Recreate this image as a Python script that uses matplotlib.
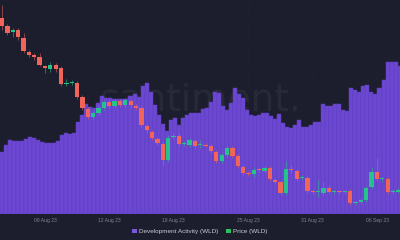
import numpy as np
import pandas as pd
import matplotlib
matplotlib.use('Agg')
import matplotlib.pyplot as plt
import matplotlib.dates as mdates
from matplotlib.patches import Patch

# Development activity (WLD), one bar every 9h
dev_start = '2023-08-01 23:40'
dev_activity = [
    62, 69, 74, 73, 73, 73, 75, 77, 76, 74, 72, 71, 71, 71, 73, 79, 81, 80, 81, 92,
    99, 110, 107, 106, 111, 118, 116, 116, 115, 115, 115, 115, 118, 120, 117, 128, 131, 122, 109, 99,
    90, 83, 94, 96, 89, 96, 99, 101, 101, 101, 105, 106, 112, 122, 121, 108, 104, 111, 126, 120,
    116, 104, 99, 98, 99, 101, 101, 98, 95, 100, 91, 87, 86, 89, 94, 87, 87, 89, 92, 92,
    110, 108, 108, 110, 110, 104, 103, 126, 124, 122, 128, 129, 122, 120, 126, 134, 152, 152, 152, 148,
]

# Price (WLD), 12h candles
candle_start = '2023-08-02 00:00'
price_open = [
    2.310, 2.270, 2.240, 2.250, 2.210, 2.140, 2.125, 2.115, 2.070, 2.055,
    2.075, 2.060, 1.980, 1.985, 1.985, 1.915, 1.855, 1.815, 1.835, 1.860,
    1.890, 1.870, 1.895, 1.875, 1.895, 1.870, 1.860, 1.770, 1.740, 1.705,
    1.680, 1.600, 1.715, 1.720, 1.680, 1.675, 1.695, 1.6725, 1.675, 1.670,
    1.640, 1.595, 1.625, 1.660, 1.620, 1.565, 1.535, 1.530, 1.550, 1.545,
    1.560, 1.500, 1.490, 1.435, 1.555, 1.545, 1.5075, 1.510, 1.445, 1.4375,
    1.435, 1.460, 1.4375, 1.440, 1.4375, 1.445, 1.3825, 1.390, 1.400, 1.465,
    1.540, 1.5025, 1.505, 1.4375, 1.440,
]
price_close = [
    2.270, 2.235, 2.250, 2.215, 2.145, 2.125, 2.115, 2.075, 2.060, 2.075,
    2.055, 1.980, 1.985, 1.990, 1.915, 1.860, 1.815, 1.835, 1.860, 1.890,
    1.870, 1.895, 1.875, 1.900, 1.875, 1.860, 1.775, 1.750, 1.710, 1.685,
    1.600, 1.710, 1.720, 1.680, 1.6825, 1.700, 1.670, 1.675, 1.670, 1.645,
    1.595, 1.625, 1.660, 1.620, 1.570, 1.535, 1.530, 1.550, 1.5475, 1.560,
    1.505, 1.490, 1.435, 1.555, 1.550, 1.505, 1.510, 1.445, 1.440, 1.440,
    1.460, 1.440, 1.440, 1.4375, 1.440, 1.385, 1.385, 1.400, 1.460, 1.540,
    1.505, 1.505, 1.440, 1.440, 1.450,
]
price_high = [
    2.375, 2.280, 2.260, 2.260, 2.235, 2.150, 2.135, 2.135, 2.075, 2.090,
    2.085, 2.070, 2.005, 2.000, 1.995, 1.925, 1.865, 1.845, 1.870, 1.900,
    1.900, 1.905, 1.905, 1.910, 1.905, 1.880, 1.870, 1.780, 1.750, 1.715,
    1.690, 1.725, 1.735, 1.735, 1.695, 1.710, 1.705, 1.700, 1.685, 1.680,
    1.650, 1.635, 1.670, 1.670, 1.630, 1.575, 1.545, 1.565, 1.560, 1.570,
    1.570, 1.510, 1.500, 1.595, 1.575, 1.555, 1.525, 1.520, 1.455, 1.500,
    1.490, 1.475, 1.450, 1.450, 1.450, 1.455, 1.395, 1.410, 1.470, 1.565,
    1.610, 1.515, 1.515, 1.455, 1.460,
]
price_low = [
    2.250, 2.225, 2.215, 2.200, 2.135, 2.115, 2.100, 2.070, 2.035, 2.040,
    2.040, 1.970, 1.970, 1.975, 1.905, 1.850, 1.805, 1.805, 1.825, 1.850,
    1.860, 1.860, 1.865, 1.865, 1.865, 1.850, 1.765, 1.740, 1.700, 1.675,
    1.575, 1.590, 1.705, 1.670, 1.670, 1.665, 1.660, 1.660, 1.665, 1.635,
    1.585, 1.585, 1.615, 1.610, 1.560, 1.525, 1.520, 1.515, 1.540, 1.535,
    1.495, 1.480, 1.425, 1.425, 1.535, 1.495, 1.500, 1.435, 1.430, 1.415,
    1.425, 1.435, 1.430, 1.430, 1.430, 1.375, 1.375, 1.380, 1.390, 1.455,
    1.495, 1.490, 1.430, 1.430, 1.435,
]

tick_dates = ['2023-08-06', '2023-08-12', '2023-08-18', '2023-08-25', '2023-08-31', '2023-09-06']
tick_labels = ['06 Aug 23', '12 Aug 23', '18 Aug 23', '25 Aug 23', '31 Aug 23', '06 Sep 23']

bg = '#1c1e2d'
purple = '#6c48d2'
red = '#f0645a'
green = '#26c28c'

fig = plt.figure(figsize=(4, 2.4), dpi=100, facecolor=bg)
ax = fig.add_axes([0, 1 - 214 / 240, 1, 214 / 240])
ax.set_facecolor(bg)

dev_x = mdates.date2num(pd.date_range(dev_start, periods=len(dev_activity), freq='9h'))
ax.bar(dev_x, dev_activity, width=9 / 24, color=purple, edgecolor='#5d3dbd', linewidth=0.35, zorder=1)
ax.set_ylim(0, 214)
ax.set_xlim(mdates.date2num(pd.Timestamp('2023-08-01 19:12')), mdates.date2num(pd.Timestamp('2023-09-08 03:36')))

# faint watermark
ax.text(0.5, 0.53, 'santiment.', transform=ax.transAxes, ha='center', va='center',
        fontsize=27, color='white', alpha=0.05, zorder=0.5)

ax2 = ax.twinx()
ax2.set_ylim(2.40 - 0.005 * 214, 2.40)
o = np.array(price_open)
c = np.array(price_close)
cx = mdates.date2num(pd.date_range(candle_start, periods=len(o), freq='12h'))
up = c >= o
cols = np.where(up, green, red)
ax2.vlines(cx, price_low, price_high, colors=cols, linewidth=0.6, alpha=0.6, zorder=2)
body = np.maximum(np.abs(c - o), 0.005)
ax2.bar(cx, body, bottom=np.minimum(o, c), width=0.4, color=cols, linewidth=0, zorder=3)

for a in (ax, ax2):
    a.set_yticks([])
    for s in a.spines.values():
        s.set_visible(False)

ax.xaxis.set_major_formatter(mdates.DateFormatter('%d %b %y'))
ax.set_xticks(mdates.date2num(pd.to_datetime(tick_dates)))
ax.set_xticklabels(tick_labels, fontsize=3.6, color='#80838f', family='Liberation Sans')
ax.tick_params(axis='x', length=0, pad=3)
ax.grid(axis='x', color='white', alpha=0.04, linestyle=':', linewidth=0.5)

handles = [Patch(facecolor='#7b57e0', label='Development Activity (WLD)'),
           Patch(facecolor='#2fc25a', label='Price (WLD)')]
fig.legend(handles=handles, loc='center', bbox_to_anchor=(0.5, 0.036), ncol=2, frameon=False,
           handlelength=0.7, handleheight=0.7, handletextpad=0.4, columnspacing=1.2,
           prop={'family': 'Liberation Sans', 'size': 4.6}, labelcolor='#c9cbd6')

fig.savefig('out.png', dpi=100, facecolor=bg)
